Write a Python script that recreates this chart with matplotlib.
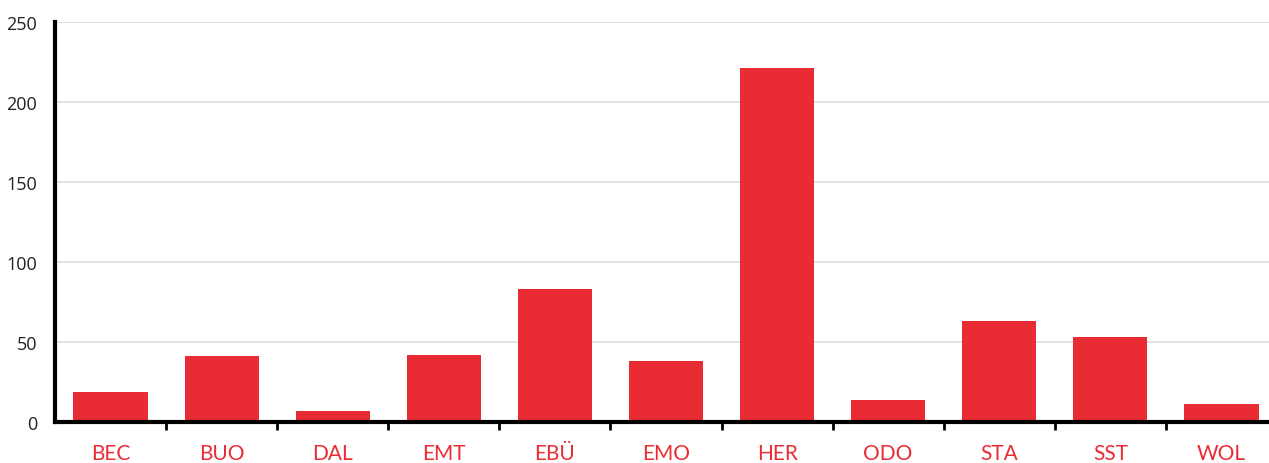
import numpy as np
import matplotlib
matplotlib.use("Agg")
import matplotlib.pyplot as plt

# data
labels = ["BEC", "BUO", "DAL", "EMT", "EBÜ", "EMO", "HER", "ODO", "STA", "SST", "WOL"]
values = [19, 41, 7, 42, 83, 38, 221, 14, 63, 53, 11]
yticks = [0, 50, 100, 150, 200, 250]

RED = "#e92c34"

W, H = 1269, 464
fig = plt.figure(figsize=(W/100, H/100), dpi=100)
# axes box in pixels: x 55..1277, y 23..423
ax = fig.add_axes([55/W, (H-423)/H, (1277-55)/W, 400/H])

x = np.arange(len(labels))
ax.bar(x, values, width=0.667, color=RED, zorder=3)

ax.set_xlim(-0.5, len(labels)-0.5)
ax.set_ylim(0, 250)

ax.set_yticks(yticks)
ax.set_yticklabels([str(v) for v in yticks], fontfamily="Open Sans", fontsize=13, color="#222222")
ax.tick_params(axis="y", length=0, pad=13)
ax.yaxis.grid(True, color="#dddddd", linewidth=1.2, zorder=0)

# category labels at centres, ticks on the band borders
ax.set_xticks(x)
ax.set_xticklabels(labels, fontfamily="Lato", fontsize=15, color=RED)
ax.tick_params(axis="x", which="major", length=0, pad=15)
ax.set_xticks(np.arange(0.5, len(labels)-0.5), minor=True)
ax.tick_params(axis="x", which="minor", length=6, width=2, color="black", direction="out")

for s in ["top", "right"]:
    ax.spines[s].set_visible(False)
for s in ["left", "bottom"]:
    ax.spines[s].set_linewidth(3)
    ax.spines[s].set_color("black")
    ax.spines[s].set_zorder(4)

fig.savefig("out.png", dpi=100)
